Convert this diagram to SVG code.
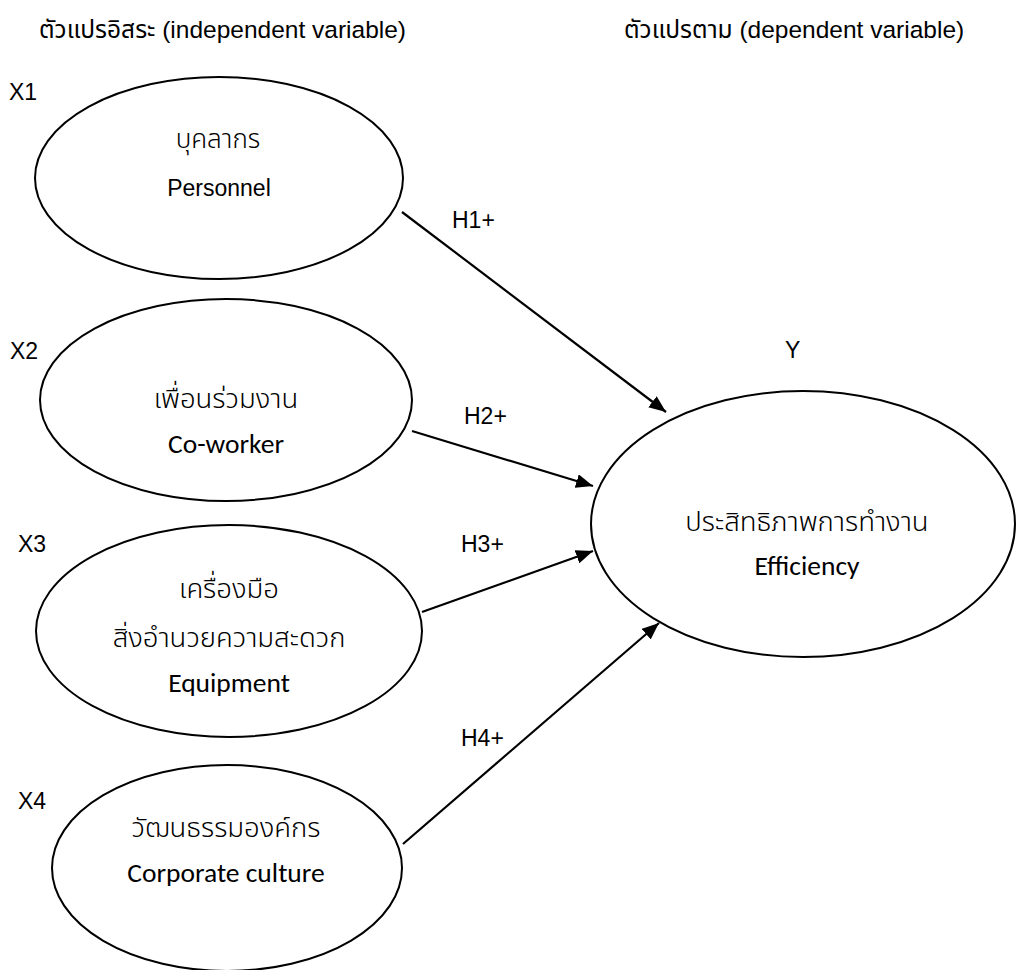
<svg xmlns="http://www.w3.org/2000/svg" width="1016" height="970" viewBox="0 0 1016 970">
<style>
.a{font-family:"Liberation Sans",Arial,"Noto Sans Thai","Noto Sans",sans-serif;font-size:23px;fill:#000}
.h{font-size:24.5px}
.c{font-family:Carlito,Calibri,Lato,"Noto Sans Thai","Noto Sans",sans-serif;font-size:27.5px;fill:#000}
.t{font-weight:300}
.m{text-anchor:middle}
ellipse{fill:#fff;stroke:#000;stroke-width:2}
.e{stroke:#000;stroke-width:2.2;fill:none}
</style>
<defs>
<marker id="ah" markerUnits="userSpaceOnUse" markerWidth="18" markerHeight="14" refX="17" refY="7" orient="auto">
<path d="M0,0 L17,7 L0,14 z" fill="#000"/>
</marker>
</defs>
<rect width="1016" height="970" fill="#fff"/>
<g id="headers">
<text class="a h" x="39" y="38">ตัวแปรอิสระ (independent variable)</text>
<text class="a h" x="624" y="38">ตัวแปรตาม (dependent variable)</text>
</g>
<g id="connectors">
<line class="e" x1="402" y1="212" x2="666" y2="412" marker-end="url(#ah)"/>
<line class="e" x1="412" y1="431" x2="593" y2="486" marker-end="url(#ah)"/>
<line class="e" x1="422" y1="612" x2="593" y2="551" marker-end="url(#ah)"/>
<line class="e" x1="403" y1="844" x2="659" y2="623" marker-end="url(#ah)"/>
<text class="a" x="452" y="228">H1+</text>
<text class="a" x="464" y="424">H2+</text>
<text class="a" x="461" y="552">H3+</text>
<text class="a" x="461" y="746">H4+</text>
</g>
<g id="X1">
<ellipse cx="219" cy="178" rx="184" ry="101"/>
<text class="a" x="9" y="100">X1</text>
<text class="a m t" x="218" y="148" style="font-size:26px">บุคลากร</text>
<text class="a m" x="219" y="196">Personnel</text>
</g>
<g id="X2">
<ellipse cx="226" cy="400" rx="186" ry="101"/>
<text class="a" x="10" y="359">X2</text>
<text class="c m t" x="226" y="408">เพื่อนร่วมงาน</text>
<text class="c m" x="226" y="453">Co-worker</text>
</g>
<g id="X3">
<ellipse cx="229" cy="631" rx="193" ry="106"/>
<text class="a" x="18" y="552">X3</text>
<text class="c m t" x="229" y="598">เครื่องมือ</text>
<text class="c m t" x="229" y="647">สิ่งอำนวยความสะดวก</text>
<text class="c m" x="229" y="692">Equipment</text>
</g>
<g id="X4">
<ellipse cx="227" cy="868" rx="175" ry="103"/>
<text class="a" x="18" y="809">X4</text>
<text class="c m t" x="226" y="837">วัฒนธรรมองค์กร</text>
<text class="c m" x="226" y="882">Corporate culture</text>
</g>
<g id="Y">
<ellipse cx="803" cy="524" rx="212" ry="133"/>
<text class="a" x="785" y="358">Y</text>
<text class="c m t" x="807" y="531">ประสิทธิภาพการทำงาน</text>
<text class="c m" x="807" y="575">Efficiency</text>
</g>
</svg>
